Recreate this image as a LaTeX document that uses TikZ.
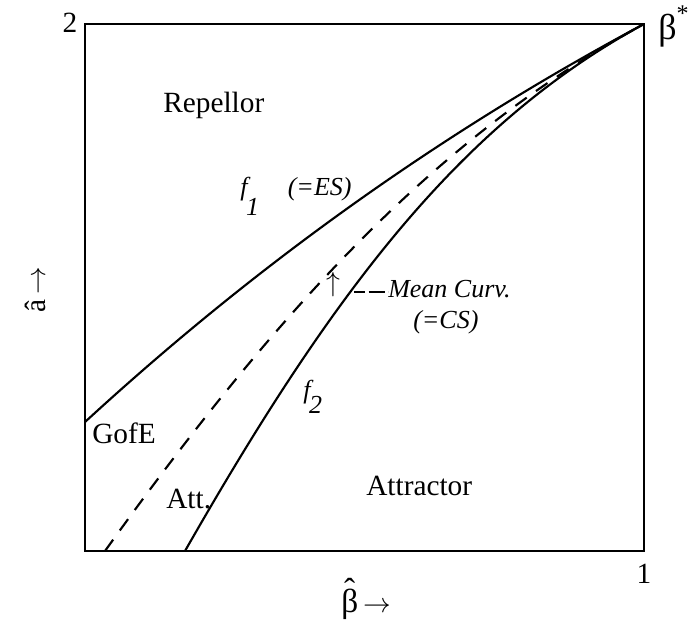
\documentclass[tikz,border=0pt]{standalone}
\usepackage{fontspec}
\setmainfont{Liberation Serif}
\newcommand{\bhat}{\ooalign{β\cr\hidewidth\raisebox{0.32em}{ˆ}\hidewidth\cr}}

\begin{document}
\begin{tikzpicture}[x=0.75pt,y=-0.75pt,
  txt/.style={inner sep=0pt, font=\fontsize{22}{24}\selectfont},
  itxt/.style={inner sep=0pt, font=\fontsize{19.5}{22}\selectfont\itshape},
  curve/.style={line width=1.6pt},
  frame/.style={line width=2.2pt}]
\useasboundingbox (0,0) rectangle (691,624);
\coordinate (bl) at (85,551);
\coordinate (tr) at (644,24);
\coordinate (f1s) at (85,422);
\coordinate (mcs) at (105,551);
\coordinate (f2s) at (185,551);
\coordinate (lead) at (354,292);

\draw[curve] (f1s) .. controls (270,252) and (457,124) .. (tr);
\draw[curve, dash pattern=on 10.5pt off 8.5pt] (mcs) .. controls (285,300) and (442,134) .. (tr);
\draw[curve] (f2s) .. controls (335,288) and (462,123) .. (tr);
\draw[frame] (bl) rectangle (tr);

\node[txt, anchor=base west] (rep) at (163,113) {Repellor};
\node[txt, anchor=base west] (gofe) at (92,443) {GofE};
\node[txt, anchor=base west] (att) at (166,508) {Att.};
\node[txt, anchor=base west] (attr) at (366,495) {Attractor};
\node[itxt, anchor=base west] (fone) at (240,195) {f\kern-0.05em\raisebox{-0.8em}{1}\hspace{1.1em}(=ES)};
\node[itxt, anchor=base west] (ftwo) at (303,398) {f\kern-0.05em\raisebox{-0.6em}{2}};
\node[itxt, anchor=base west] (mean) at (388,297) {Mean Curv.};
\node[itxt, anchor=base west] (cs) at (413,328) {(=CS)};
\node[inner sep=0pt, font=\fontsize{22}{24}\selectfont] (up) at (333,285) {$\uparrow$};
\draw[curve, dash pattern=on 8.5pt off 2.5pt on 12.5pt off 2pt] (lead) -- (lead -| mean.west);

\node[txt, anchor=base] (two) at (70,33) {2};
\node[txt, anchor=base] (one) at (644,583) {1};
\node[inner sep=0pt, anchor=base west, font=\fontsize{27}{30}\selectfont] (bstar) at (658,40) {β\raisebox{0.5em}{\fontsize{18}{20}\selectfont *}};
\node[txt, anchor=base west] (xlab) at (341,612) {{\fontsize{25}{28}\selectfont\bhat}\,$\rightarrow$};
\node[txt, rotate=90, anchor=base west] (ylab) at (45,313) {â\,$\rightarrow$};
\end{tikzpicture}
\end{document}
